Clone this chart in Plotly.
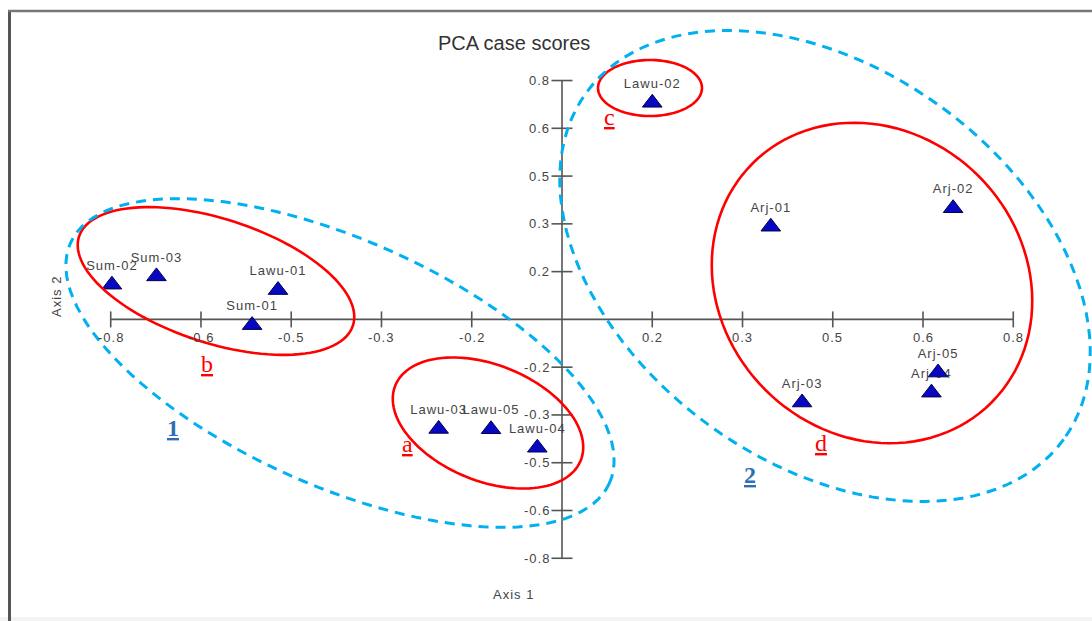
import math
import plotly.graph_objects as go

W, H = 1092, 621

# ---------------- data ----------------
case_labels = ["Sum-02", "Sum-03", "Lawu-01", "Sum-01", "Lawu-03", "Lawu-05", "Lawu-04",
               "Lawu-02", "Arj-01", "Arj-02", "Arj-03", "Arj-04", "Arj-05"]
axis1_scores = [-0.748, -0.674, -0.472, -0.515, -0.205, -0.118, -0.041,
                0.150, 0.347, 0.650, 0.399, 0.614, 0.625]
axis2_scores = [0.109, 0.135, 0.092, -0.018, -0.344, -0.345, -0.403,
                0.680, 0.291, 0.349, -0.261, -0.230, -0.167]
tick_values = [-0.75, -0.6, -0.45, -0.3, -0.15, 0.15, 0.3, 0.45, 0.6, 0.75]
tick_labels = ["-0.8", "-0.6", "-0.5", "-0.3", "-0.2", "0.2", "0.3", "0.5", "0.6", "0.8"]
group_letters = ["a", "b", "c", "d"]
cluster_numbers = ["1", "2"]

# ---------------- layout geometry ----------------
X_RANGE = [-0.93402, 0.88084]
Y_RANGE = [-0.94694, 1.00283]
AX_MIN, AX_MAX = -0.75, 0.75


def px_x(px):
    return X_RANGE[0] + px / W * (X_RANGE[1] - X_RANGE[0])


def px_y(py):
    return Y_RANGE[1] - py / H * (Y_RANGE[1] - Y_RANGE[0])


DX = (X_RANGE[1] - X_RANGE[0]) / W  # data per px
DY = (Y_RANGE[1] - Y_RANGE[0]) / H


def ellipse_path(cx, cy, a, b, deg, n=120):
    th = math.radians(deg)
    pts = []
    for i in range(n):
        t = 2 * math.pi * i / n
        x = cx + a * math.cos(th) * math.cos(t) - b * math.sin(th) * math.sin(t)
        y = cy + a * math.sin(th) * math.cos(t) + b * math.cos(th) * math.sin(t)
        pts.append((px_x(x), px_y(y)))
    return "M" + " L".join(f"{x:.5f},{y:.5f}" for x, y in pts) + " Z"


AXIS_COLOR = "#555555"
TEXT_COLOR = "#444444"
RED = "#ff0000"
SKY = "#00b0f0"
NUM_BLUE = "#2e6fb4"


def spaced(s, sp=1):
    return f"<span style='letter-spacing:{sp}px'>{s}</span>"


fig = go.Figure()

# labels (drawn first so markers can overlap them)
fig.add_trace(go.Scatter(
    x=axis1_scores, y=axis2_scores, mode="markers+text",
    text=[spaced(t) for t in case_labels], textposition="top center",
    textfont=dict(family="Liberation Sans, Arial", size=13, color=TEXT_COLOR),
    marker=dict(size=17, opacity=0), hoverinfo="skip", showlegend=False,
))
fig.add_trace(go.Scatter(
    x=axis1_scores, y=axis2_scores, mode="markers",
    marker=dict(symbol="triangle-up", size=17, color="#0808c0",
                line=dict(color="#000050", width=1)),
    showlegend=False, hovertext=case_labels, hoverinfo="text",
))

shapes = []
annotations = []

# central axes
shapes.append(dict(type="line", xref="x", yref="y", x0=AX_MIN, x1=AX_MAX, y0=0, y1=0,
                   line=dict(color=AXIS_COLOR, width=1.6), layer="below"))
shapes.append(dict(type="line", xref="x", yref="y", x0=0, x1=0, y0=AX_MIN, y1=AX_MAX,
                   line=dict(color=AXIS_COLOR, width=1.6), layer="below"))
for v, lab in zip(tick_values, tick_labels):
    # x ticks
    shapes.append(dict(type="line", xref="x", yref="y", x0=v, x1=v, y0=-8 * DY, y1=8 * DY,
                       line=dict(color=AXIS_COLOR, width=1.6), layer="below"))
    annotations.append(dict(x=v, y=-18 * DY, xref="x", yref="y", text=spaced(lab),
                            showarrow=False, xanchor="center", yanchor="middle",
                            font=dict(family="Liberation Sans, Arial", size=13, color=TEXT_COLOR)))
    # y ticks
    shapes.append(dict(type="line", xref="x", yref="y", x0=-10.5 * DX, x1=10.5 * DX, y0=v, y1=v,
                       line=dict(color=AXIS_COLOR, width=1.6), layer="below"))
    annotations.append(dict(x=-11 * DX, y=v, xref="x", yref="y", text=spaced(lab),
                            showarrow=False, xanchor="right", yanchor="middle", borderpad=0,
                            font=dict(family="Liberation Sans, Arial", size=13, color=TEXT_COLOR)))

# group ellipses (red) and cluster ellipses (blue dashed)
red_ellipses = [(488, 423, 100, 58, 22), (216, 281, 144, 62, 18),
                (650, 88, 52, 28, 0), (872, 283, 169, 151, 45)]
blue_ellipses = [(340, 363, 295, 123, 24), (825, 266, 295, 197, 36)]
for e in red_ellipses:
    shapes.append(dict(type="path", xref="x", yref="y", path=ellipse_path(*e),
                       line=dict(color=RED, width=2.6)))
for e in blue_ellipses:
    shapes.append(dict(type="path", xref="x", yref="y", path=ellipse_path(*e),
                       line=dict(color=SKY, width=3, dash="10px,7px")))

letter_pos = [(407, 444), (207, 364), (609, 117), (821, 443)]
for t, (x, y) in zip(group_letters, letter_pos):
    annotations.append(dict(x=px_x(x), y=px_y(y), xref="x", yref="y", text=f"<u>{t}</u>",
                            showarrow=False, xanchor="center", yanchor="middle",
                            font=dict(family="Liberation Serif, Times New Roman", size=24, color=RED)))
num_pos = [(173, 428), (750, 475)]
for t, (x, y) in zip(cluster_numbers, num_pos):
    annotations.append(dict(x=px_x(x), y=px_y(y), xref="x", yref="y", text=f"<u><b>{t}</b></u>",
                            showarrow=False, xanchor="center", yanchor="middle",
                            font=dict(family="Liberation Serif, Times New Roman", size=24, color=NUM_BLUE)))

# titles
annotations.append(dict(x=514 / W, y=1 - 43 / H, xref="paper", yref="paper", text="PCA case scores",
                        showarrow=False, xanchor="center", yanchor="middle",
                        font=dict(family="Liberation Sans, Arial", size=20, color="#333333")))
annotations.append(dict(x=513 / W, y=1 - 594 / H, xref="paper", yref="paper", text=spaced("Axis 1"),
                        showarrow=False, xanchor="center", yanchor="middle",
                        font=dict(family="Liberation Sans, Arial", size=13, color=TEXT_COLOR)))
annotations.append(dict(x=56 / W, y=1 - 297 / H, xref="paper", yref="paper", text=spaced("Axis 2"),
                        showarrow=False, xanchor="center", yanchor="middle", textangle=-90,
                        font=dict(family="Liberation Sans, Arial", size=13, color=TEXT_COLOR)))

# window frame
shapes.append(dict(type="line", xref="paper", yref="paper", x0=9.5 / W, x1=9.5 / W, y0=0, y1=1 - 10 / H,
                   line=dict(color="#555555", width=3)))
shapes.append(dict(type="line", xref="paper", yref="paper", x0=8 / W, x1=1, y0=1 - 11 / H, y1=1 - 11 / H,
                   line=dict(color="#777777", width=2.5)))
shapes.append(dict(type="rect", xref="paper", yref="paper", x0=0, x1=1, y0=0, y1=4 / H,
                   line=dict(width=0), fillcolor="#f3f3f3", layer="below"))

fig.update_layout(
    width=W, height=H, margin=dict(l=0, r=0, t=0, b=0),
    paper_bgcolor="white", plot_bgcolor="white",
    xaxis=dict(range=X_RANGE, visible=False, fixedrange=True),
    yaxis=dict(range=Y_RANGE, visible=False, fixedrange=True),
    shapes=shapes, annotations=annotations, showlegend=False,
)

fig.write_html(
    "out.html",
    config={"displayModeBar": False},
    post_script="document.body.style.margin='0';document.body.style.overflow='hidden';",
)
